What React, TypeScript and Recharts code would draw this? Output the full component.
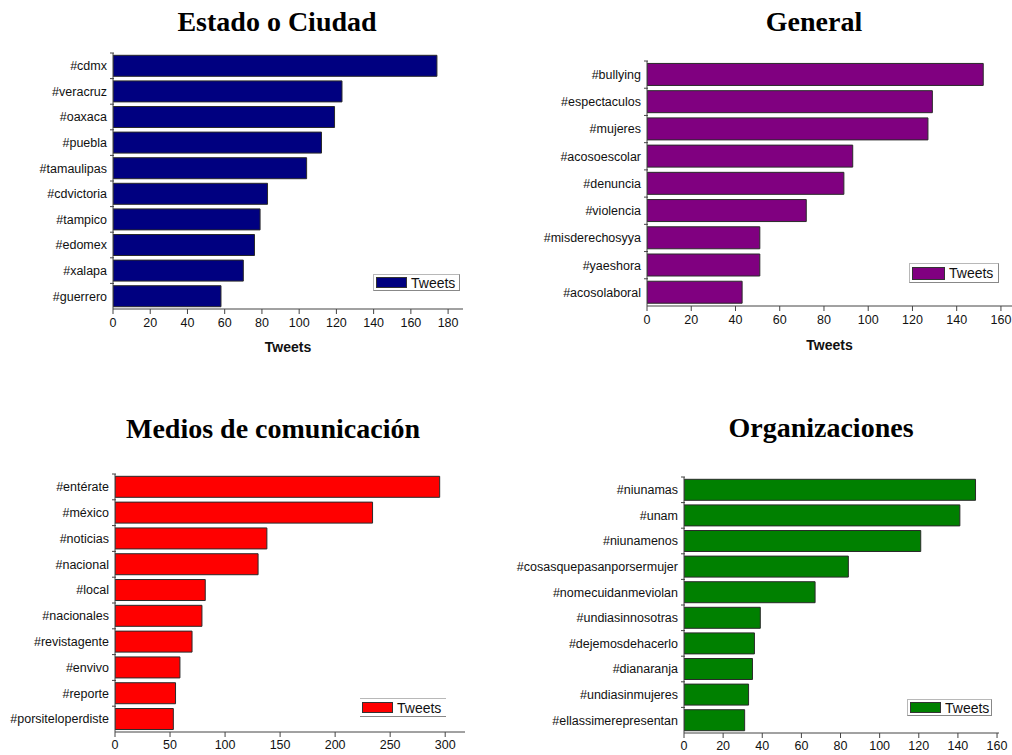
import React from 'react';
import { BarChart, Bar, XAxis, YAxis, Legend, Label } from 'recharts';

const estadoTags = ['#cdmx', '#veracruz', '#oaxaca', '#puebla', '#tamaulipas', '#cdvictoria', '#tampico', '#edomex', '#xalapa', '#guerrero'];
const estadoValues = [174, 123, 119, 112, 104, 83, 79, 76, 70, 58];
const estadoTicks = [0, 20, 40, 60, 80, 100, 120, 140, 160, 180];

const generalTags = ['#bullying', '#espectaculos', '#mujeres', '#acosoescolar', '#denuncia', '#violencia', '#misderechosyya', '#yaeshora', '#acosolaboral'];
const generalValues = [152, 129, 127, 93, 89, 72, 51, 51, 43];
const generalTicks = [0, 20, 40, 60, 80, 100, 120, 140, 160];

const mediosTags = ['#entérate', '#méxico', '#noticias', '#nacional', '#local', '#nacionales', '#revistagente', '#envivo', '#reporte', '#porsiteloperdiste'];
const mediosValues = [295, 234, 138, 130, 82, 79, 70, 59, 55, 53];
const mediosTicks = [0, 50, 100, 150, 200, 250, 300];

const orgTags = ['#niunamas', '#unam', '#niunamenos', '#cosasquepasanporsermujer', '#nomecuidanmeviolan', '#undiasinnosotras', '#dejemosdehacerlo', '#dianaranja', '#undiasinmujeres', '#ellassimerepresentan'];
const orgValues = [149, 141, 121, 84, 67, 39, 36, 35, 33, 31];
const orgTicks = [0, 20, 40, 60, 80, 100, 120, 140, 160];

const SANS = '"Liberation Sans", Arial, sans-serif';
const SERIF = '"Liberation Serif", "Times New Roman", serif';
const AXIS = '#444';

type PanelProps = {
  title: string;
  titleX: number;
  titleBase: number;
  left: number;
  top: number;
  width: number;
  height: number;
  tags: string[];
  values: number[];
  ticks: number[];
  max: number;
  color: string;
  plot: { left: number; right: number; top: number; bottom: number };
  xHeight: number;
  tickGap?: number;
  xLabel?: { offset: number };
  legend: { left: number; top: number; w: number; h: number; sw: number; sh: number; open?: boolean };
};

function Panel(p: PanelProps) {
  const data = p.tags.map((tag, i) => ({ tag, value: p.values[i] }));
  const half = (p.plot.bottom - p.plot.top) / p.tags.length / 2;
  const margin = {
    top: p.plot.top,
    left: 0,
    right: p.width - p.plot.right,
    bottom: p.height - p.plot.bottom - p.xHeight,
  };
  const lg = p.legend;

  const renderTick = (props: any) => {
    const { x, y, payload } = props;
    const axisX = x + 6;
    return (
      <g>
        <line x1={axisX - 3} x2={axisX + 1} y1={y - half} y2={y - half} stroke={AXIS} />
        <text x={x} y={y} dy="0.35em" textAnchor="end" fontSize={12.5} fill="#111" fontFamily={SANS}>
          {payload.value}
        </text>
      </g>
    );
  };

  const renderLegend = () => (
    <div
      style={{
        width: lg.w,
        height: lg.h,
        boxSizing: 'border-box',
        display: 'flex',
        alignItems: 'center',
        background: '#fff',
        borderTop: '1px solid #b8b8b8',
        borderBottom: '1px solid #888',
        borderLeft: lg.open ? 'none' : '1px solid #b8b8b8',
        borderRight: lg.open ? 'none' : '1px solid #888',
        paddingLeft: 2,
        fontFamily: SANS,
        fontSize: 14,
        color: '#111',
      }}
    >
      <span
        style={{
          display: 'inline-block',
          width: lg.sw,
          height: lg.sh,
          background: p.color,
          border: '1px solid #333',
          boxSizing: 'border-box',
          marginRight: 4,
        }}
      />
      <span>Tweets</span>
    </div>
  );

  return (
    <div style={{ position: 'absolute', left: p.left, top: p.top, width: p.width, height: p.height }}>
      <div
        style={{
          position: 'absolute',
          left: p.titleX - p.left - 200,
          top: p.titleBase - p.top - 23.4,
          width: 400,
          textAlign: 'center',
          fontFamily: SERIF,
          fontWeight: 'bold',
          fontSize: 28,
          lineHeight: '28px',
          color: '#000',
        }}
      >
        {p.title}
      </div>
      <BarChart
        layout="vertical"
        width={p.width}
        height={p.height}
        data={data}
        margin={margin}
        barCategoryGap="9%"
      >
        <XAxis
          type="number"
          domain={[0, p.max]}
          ticks={p.ticks}
          allowDataOverflow
          height={p.xHeight}
          stroke={AXIS}
          tickSize={5}
          tickMargin={p.tickGap ?? 4}
          tick={{ fontSize: 12.5, fill: '#111', fontFamily: SANS }}
        >
          {p.xLabel && (
            <Label
              value="Tweets"
              position="insideBottom"
              offset={p.xLabel.offset}
              fontSize={14}
              fontWeight="bold"
              fill="#111"
              fontFamily={SANS}
            />
          )}
        </XAxis>
        <YAxis
          type="category"
          dataKey="tag"
          width={p.plot.left}
          stroke={AXIS}
          tickLine={false}
          tickSize={5}
          tickMargin={1}
          interval={0}
          tick={renderTick}
        />
        <Legend
          layout="horizontal"
          verticalAlign="middle"
          align="center"
          content={renderLegend}
          wrapperStyle={{ left: lg.left, top: lg.top, width: lg.w, height: lg.h }}
        />
        <Bar dataKey="value" name="Tweets" fill={p.color} stroke="#2a2a2a" strokeWidth={1} isAnimationActive={false} />
      </BarChart>
    </div>
  );
}

export default function App() {
  return (
    <div style={{ position: 'absolute', left: 0, top: 0, width: 1012, height: 755, background: '#fff', overflow: 'hidden' }}>
      <Panel
        title="Estado o Ciudad"
        titleX={277}
        titleBase={31}
        left={0}
        top={0}
        width={506}
        height={380}
        tags={estadoTags}
        values={estadoValues}
        ticks={estadoTicks}
        max={188}
        color="#000080"
        plot={{ left: 113, right: 463, top: 53, bottom: 309 }}
        xHeight={50}
        xLabel={{ offset: 7 }}
        legend={{ left: 373, top: 274, w: 87, h: 17, sw: 31, sh: 11 }}
      />
      <Panel
        title="General"
        titleX={814}
        titleBase={31}
        left={506}
        top={0}
        width={506}
        height={380}
        tags={generalTags}
        values={generalValues}
        ticks={generalTicks}
        max={165}
        color="#800080"
        plot={{ left: 141, right: 506, top: 61, bottom: 306 }}
        xHeight={50}
        xLabel={{ offset: 6 }}
        legend={{ left: 403, top: 263, w: 90, h: 20, sw: 33, sh: 13 }}
      />
      <Panel
        title="Medios de comunicación"
        titleX={273}
        titleBase={438}
        left={0}
        top={380}
        width={506}
        height={375}
        tags={mediosTags}
        values={mediosValues}
        ticks={mediosTicks}
        max={318}
        color="#ff0000"
        plot={{ left: 115, right: 465, top: 94, bottom: 352 }}
        xHeight={23}
        tickGap={3}
        legend={{ left: 360, top: 318, w: 86, h: 19, sw: 31, sh: 11, open: true }}
      />
      <Panel
        title="Organizaciones"
        titleX={821}
        titleBase={437}
        left={506}
        top={380}
        width={506}
        height={375}
        tags={orgTags}
        values={orgValues}
        ticks={orgTicks}
        max={161}
        color="#008000"
        plot={{ left: 178, right: 493, top: 97, bottom: 353 }}
        xHeight={22}
        tickGap={3}
        legend={{ left: 401, top: 319, w: 85, h: 17, sw: 31, sh: 11 }}
      />
    </div>
  );
}
